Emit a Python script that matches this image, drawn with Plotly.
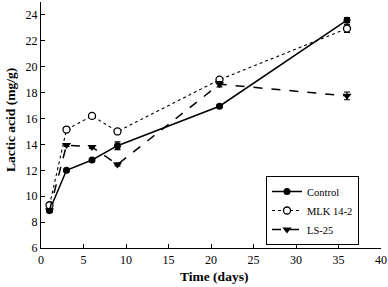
import plotly.graph_objects as go

days = [1, 3, 6, 9, 21, 36]
control = [8.9, 12.0, 12.8, 13.9, 16.95, 23.6]
control_err = [0.15, 0.1, 0.1, 0.3, 0.1, 0.2]
mlk = [9.3, 15.15, 16.2, 15.0, 19.0, 22.95]
mlk_err = [0.1, 0.1, 0.1, 0.15, 0.15, 0.3]
ls25 = [8.9, 13.95, 13.8, 12.45, 18.65, 17.75]
ls25_err = [0.1, 0.1, 0.1, 0.1, 0.2, 0.3]

fig = go.Figure()
fig.add_trace(go.Scatter(x=days, y=control, name="Control", mode="lines+markers",
                         line=dict(color="black", width=1.5, dash="solid"),
                         marker=dict(symbol="circle", size=7, color="black"),
                         error_y=dict(type="data", array=control_err, color="black", thickness=1.2, width=3)))
fig.add_trace(go.Scatter(x=days, y=mlk, name="MLK 14-2", mode="lines+markers",
                         line=dict(color="black", width=1.1, dash="dot"),
                         marker=dict(symbol="circle", size=7, color="white", line=dict(width=1.3, color="black")),
                         error_y=dict(type="data", array=mlk_err, color="black", thickness=1.2, width=3)))
fig.add_trace(go.Scatter(x=days, y=ls25, name="LS-25", mode="lines+markers",
                         line=dict(color="black", width=1.5, dash="dash"),
                         marker=dict(symbol="triangle-down", size=8, color="black"),
                         error_y=dict(type="data", array=ls25_err, color="black", thickness=1.2, width=3)))

font = dict(family="Liberation Serif", color="black")
fig.update_layout(
    width=388, height=287,
    margin=dict(l=41, r=7, t=2, b=39, autoexpand=False),
    paper_bgcolor="white", plot_bgcolor="white",
    font=dict(size=12, **font),
    showlegend=True,
    legend=dict(x=(266 - 41) / 340, y=(248 - 176) / 246, xanchor="left", yanchor="top",
                bordercolor="black", borderwidth=1, bgcolor="white",
                font=dict(size=10.5, **font), tracegroupgap=0, itemwidth=30),
    xaxis=dict(range=[0, 40], tickvals=[0, 5, 10, 15, 20, 25, 30, 35, 40],
               showline=True, linecolor="black", linewidth=1.2, mirror=False,
               ticks="inside", ticklen=4, tickcolor="black", showgrid=False, zeroline=False,
               automargin=False, tickfont=dict(size=12, **font)),
    yaxis=dict(range=[6, 25], tickvals=[6, 8, 10, 12, 14, 16, 18, 20, 22, 24],
               showline=True, linecolor="black", linewidth=1.2, mirror=False,
               ticks="inside", ticklen=4, tickcolor="black", showgrid=False, zeroline=False,
               automargin=False, tickfont=dict(size=12, **font)),
    annotations=[
        dict(text="<b>Time (days)</b>", xref="paper", yref="paper", x=(214 - 41) / 340, y=-(276 - 248) / 246,
             xanchor="center", yanchor="middle", showarrow=False, font=dict(size=13.5, **font)),
        dict(text="<b>Lactic acid (mg/g)</b>", xref="paper", yref="paper", x=-(41 - 11) / 340, y=(248 - 120) / 246,
             xanchor="center", yanchor="middle", textangle=-90, showarrow=False, font=dict(size=13.5, **font)),
    ],
)
fig.write_html("out.html", config={"displayModeBar": False},
               post_script="document.body.style.margin='0';document.body.style.overflow='hidden';")
